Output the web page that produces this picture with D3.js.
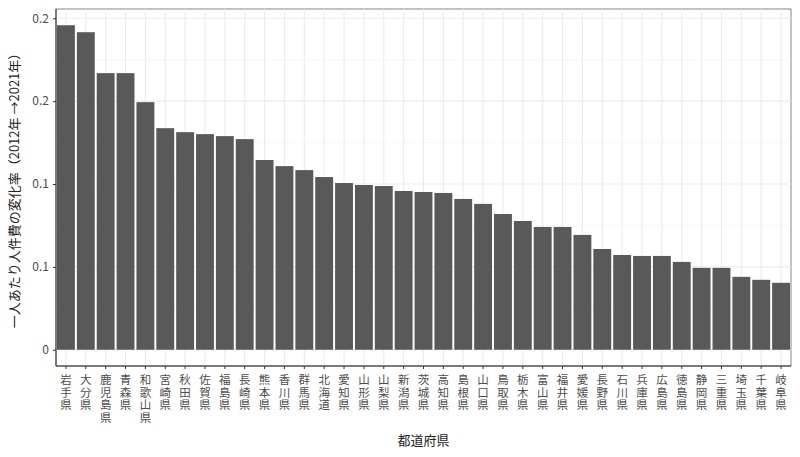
<!DOCTYPE html>
<html><head><meta charset="utf-8">
<script src="https://cdn.jsdelivr.net/npm/d3@7"></script>
<style>body{margin:0;background:#fff}text{font-family:"Noto Sans CJK JP",sans-serif}</style>
</head><body><svg id="c" width="800" height="457"></svg>
<script>
const prefs = ["岩手県","大分県","鹿児島県","青森県","和歌山県","宮崎県","秋田県","佐賀県","福島県","長崎県","熊本県","香川県","群馬県","北海道","愛知県","山形県","山梨県","新潟県","茨城県","高知県","島根県","山口県","鳥取県","栃木県","富山県","福井県","愛媛県","長野県","石川県","兵庫県","広島県","徳島県","静岡県","三重県","埼玉県","千葉県","岐阜県"];
const rates = [0.1958,0.1916,0.1669,0.1669,0.1494,0.1337,0.1313,0.1301,0.1289,0.1271,0.1145,0.1108,0.1084,0.1042,0.1006,0.0994,0.0988,0.0958,0.0952,0.0946,0.0910,0.0880,0.0819,0.0777,0.0741,0.0741,0.0693,0.0608,0.0572,0.0566,0.0566,0.0530,0.0494,0.0494,0.0440,0.0422,0.0404];
const yTicks = [0,0.05,0.1,0.15,0.2];
const yLabels = ["0","0.1","0.1","0.2","0.2"];

const svg = d3.select("#c");
const L=56,R=791,T=9,B=366;
const x = d3.scaleBand().domain(prefs).range([L,R]).paddingInner(0.1).paddingOuter(0.05);
const y = d3.scaleLinear().domain([-0.0098,0.2056]).range([B,T]);

const g = svg.append("g");
g.append("rect").attr("x",L).attr("y",T).attr("width",R-L).attr("height",B-T).attr("fill","#fff").attr("stroke","#333").attr("stroke-width",0.6);
// minor grid
for(let i=0;i<yTicks.length-1;i++){const v=(yTicks[i]+yTicks[i+1])/2;
  g.append("line").attr("x1",L).attr("x2",R).attr("y1",y(v)).attr("y2",y(v)).attr("stroke","#f2f2f2").attr("stroke-width",0.6);}
g.selectAll(".gy").data(yTicks).enter().append("line").attr("x1",L).attr("x2",R).attr("y1",d=>y(d)).attr("y2",d=>y(d)).attr("stroke","#ebebeb").attr("stroke-width",1.1);
g.selectAll(".gx").data(prefs).enter().append("line").attr("y1",T).attr("y2",B).attr("x1",d=>x(d)+x.bandwidth()/2).attr("x2",d=>x(d)+x.bandwidth()/2).attr("stroke","#ebebeb").attr("stroke-width",1.1);

g.selectAll(".bar").data(rates).enter().append("rect")
  .attr("x",(d,i)=>x(prefs[i])).attr("width",x.bandwidth())
  .attr("y",d=>y(d)).attr("height",d=>y(0)-y(d)).attr("fill","#595959");

g.append("line").attr("x1",L).attr("x2",L).attr("y1",T).attr("y2",B).attr("stroke","#333");
g.append("line").attr("x1",L).attr("x2",R).attr("y1",B).attr("y2",B).attr("stroke","#333");

const ya = svg.append("g").attr("transform",`translate(${L},0)`)
  .call(d3.axisLeft(y).tickValues(yTicks).tickFormat((d,i)=>yLabels[i]).tickSize(3).tickPadding(4));
ya.select(".domain").remove();
ya.selectAll("text").attr("font-size",12).attr("fill","#4d4d4d");
ya.selectAll("line").attr("stroke","#333");

const xa = svg.append("g").attr("transform",`translate(0,${B})`)
  .call(d3.axisBottom(x).tickSize(3).tickFormat(""));
xa.select(".domain").remove();
xa.selectAll("line").attr("stroke","#333");
// vertical labels: one upright character per line
const xl = svg.selectAll(".xl").data(prefs).enter().append("text")
  .attr("text-anchor","middle").attr("font-size",11.5).attr("fill","#4d4d4d");
xl.each(function(d){
  const cx = x(d)+x.bandwidth()/2;
  d3.select(this).selectAll("tspan").data(Array.from(d)).enter().append("tspan")
    .attr("x",cx).attr("y",(c,i)=>384+i*12.5).text(c=>c);
});

svg.append("text").attr("x",(L+R)/2).attr("y",445).attr("text-anchor","middle").attr("font-size",13).attr("fill","#222").text("都道府県");
svg.append("text").attr("transform",`translate(19,${(T+B)/2}) rotate(-90)`).attr("text-anchor","middle").attr("font-size",13).attr("fill","#222").text("一人あたり人件費の変化率（2012年 →2021年）");
</script></body></html>
